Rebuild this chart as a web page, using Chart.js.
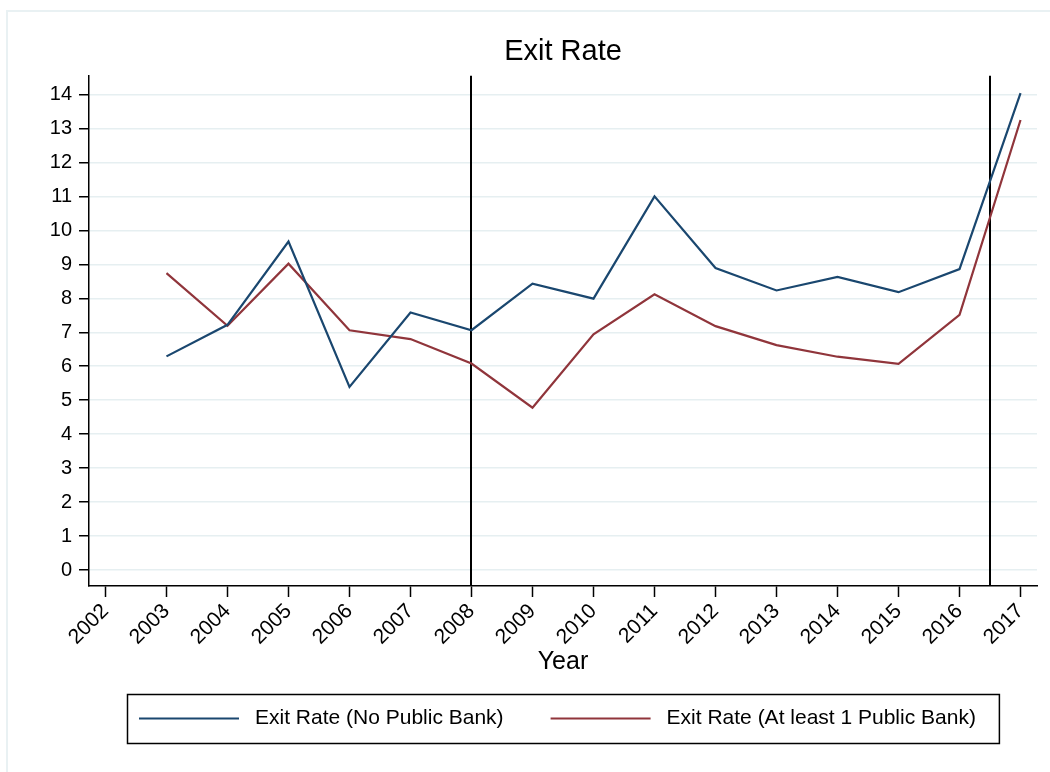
<!DOCTYPE html>
<html>
<head>
<meta charset="utf-8">
<title>Exit Rate</title>
<script src="https://cdn.jsdelivr.net/npm/chart.js@4.4.1/dist/chart.umd.min.js"></script>
<style>
  html, body { margin: 0; padding: 0; background: #fff; }
  #wrap { width: 1050px; height: 772px; }
</style>
</head>
<body>
<div id="wrap"><canvas id="chart" width="1050" height="772"></canvas></div>
<script>
'use strict';

/* ── Data ─────────────────────────────────────────────────────────── */
const TICK_YEARS = [2002, 2003, 2004, 2005, 2006, 2007, 2008, 2009,
                    2010, 2011, 2012, 2013, 2014, 2015, 2016, 2017];
const Y_TICKS    = [0, 1, 2, 3, 4, 5, 6, 7, 8, 9, 10, 11, 12, 13, 14];

const DATA_YEARS = [2003, 2004, 2005, 2006, 2007, 2008, 2009, 2010,
                    2011, 2012, 2013, 2014, 2015, 2016, 2017];
const NO_PUBLIC  = [6.29, 7.22, 9.67, 5.39, 7.58, 7.06, 8.43, 7.99,
                    11.00, 8.89, 8.23, 8.63, 8.18, 8.86, 14.04];
const ONE_PUBLIC = [8.74, 7.19, 9.02, 7.06, 6.80, 6.08, 4.78, 6.94,
                    8.12, 7.18, 6.62, 6.28, 6.07, 7.51, 13.25];

const X_LINES    = [2008, 2016.5];

const LABELS = ['Exit Rate (No Public Bank)', 'Exit Rate (At least 1 Public Bank)'];

/* ── Style tokens ─────────────────────────────────────────────────── */
const C = {
  navy:   '#1a476f',
  maroon: '#90353b',
  grid:   '#e6eff1',
  frame:  '#e9f1f3',
  ink:    '#000000',
};
const FONT = '"Liberation Sans", Arial, Helvetica, sans-serif';

const toPoints = vals => DATA_YEARS.map((x, i) => ({ x, y: vals[i] }));

/* ── Plugins: outer frame, reference lines, boxed legend ──────────── */
const framePlugin = {
  id: 'frame',
  beforeDraw(chart) {
    const { ctx } = chart;
    ctx.save();
    ctx.strokeStyle = C.frame;
    ctx.lineWidth = 2;
    ctx.strokeRect(7, 11, chart.width + 20, chart.height + 20);
    ctx.restore();
  },
};

const xLinePlugin = {
  id: 'xLines',
  beforeDatasetsDraw(chart) {
    const { ctx, chartArea, scales } = chart;
    ctx.save();
    ctx.strokeStyle = C.ink;
    ctx.lineWidth = 2;
    X_LINES.forEach(v => {
      const px = Math.round(scales.x.getPixelForValue(v));
      ctx.beginPath();
      ctx.moveTo(px, chartArea.top);
      ctx.lineTo(px, chartArea.bottom);
      ctx.stroke();
    });
    ctx.restore();
  },
};

const boxLegendPlugin = {
  id: 'boxLegend',
  afterDraw(chart) {
    const { ctx, chartArea } = chart;
    const items = chart.data.datasets;
    ctx.save();
    ctx.font = `21px ${FONT}`;
    const widths = items.map(d => ctx.measureText(d.label).width);
    const lineLen = 100, padL = 12, gapText = 16, gapItem = 47, padR = 23;
    const boxW = padL + widths.reduce((s, w) => s + lineLen + gapText + w, 0)
               + gapItem * (items.length - 1) + padR;
    const boxH = 49;
    const cx = (chartArea.left + chartArea.right) / 2;
    const left = Math.round(cx - boxW / 2);
    const top = 694;
    const midY = top + boxH / 2;

    ctx.strokeStyle = C.ink;
    ctx.lineWidth = 1.5;
    ctx.strokeRect(left + 0.5, top + 0.5, boxW, boxH);

    let x = left + padL;
    items.forEach((d, i) => {
      ctx.strokeStyle = d.borderColor;
      ctx.lineWidth = 2.2;
      ctx.beginPath();
      ctx.moveTo(x, midY);
      ctx.lineTo(x + lineLen, midY);
      ctx.stroke();
      ctx.fillStyle = C.ink;
      ctx.textAlign = 'left';
      ctx.textBaseline = 'middle';
      ctx.fillText(d.label, x + lineLen + gapText, midY);
      x += lineLen + gapText + widths[i] + gapItem;
    });
    ctx.restore();
  },
};

/* ── Chart ────────────────────────────────────────────────────────── */
new Chart(document.getElementById('chart'), {
  type: 'line',
  data: {
    datasets: [
      {
        label: LABELS[0],
        data: toPoints(NO_PUBLIC),
        borderColor: C.navy,
        backgroundColor: C.navy,
        borderWidth: 2.2,
        pointRadius: 0,
        tension: 0,
      },
      {
        label: LABELS[1],
        data: toPoints(ONE_PUBLIC),
        borderColor: C.maroon,
        backgroundColor: C.maroon,
        borderWidth: 2.2,
        pointRadius: 0,
        tension: 0,
      },
    ],
  },
  options: {
    responsive: false,
    animation: false,
    devicePixelRatio: 1,
    layout: { padding: { left: 0, right: 13, top: 0, bottom: 92 } },
    plugins: {
      legend: { display: false },
      tooltip: { enabled: false },
      title: {
        display: true,
        text: 'Exit Rate',
        color: C.ink,
        fullSize: false,
        font: { family: FONT, size: 29, weight: 'normal' },
        padding: { top: 35, bottom: 6 },
      },
    },
    scales: {
      x: {
        type: 'linear',
        min: 2001.73,
        max: 2017.27,
        afterBuildTicks: s => { s.ticks = TICK_YEARS.map(value => ({ value })); },
        afterFit: s => { s.height = 94; },
        grid: {
          drawOnChartArea: false,
          tickColor: C.ink,
          tickLength: 11,
          tickWidth: 1.5,
        },
        border: { color: C.ink, width: 1.5 },
        ticks: {
          color: C.ink,
          font: { family: FONT, size: 21 },
          maxRotation: 45,
          minRotation: 45,
          autoSkip: false,
          padding: 2,
          callback: v => String(v),
        },
        title: {
          display: true,
          text: 'Year',
          color: C.ink,
          font: { family: FONT, size: 25 },
          padding: { top: 0, bottom: 3 },
        },
      },
      y: {
        min: -0.47,
        max: 14.55,
        afterBuildTicks: s => { s.ticks = Y_TICKS.map(value => ({ value })); },
        afterFit: s => { s.width = 89; },
        grid: {
          color: C.grid,
          lineWidth: 1.5,
          tickColor: C.ink,
          tickLength: 10,
          tickWidth: 1.5,
        },
        border: { color: C.ink, width: 1.5 },
        ticks: {
          color: C.ink,
          font: { family: FONT, size: 20 },
          padding: 7,
          callback: v => String(v),
        },
      },
    },
  },
  plugins: [framePlugin, xLinePlugin, boxLegendPlugin],
});
</script>
</body>
</html>
